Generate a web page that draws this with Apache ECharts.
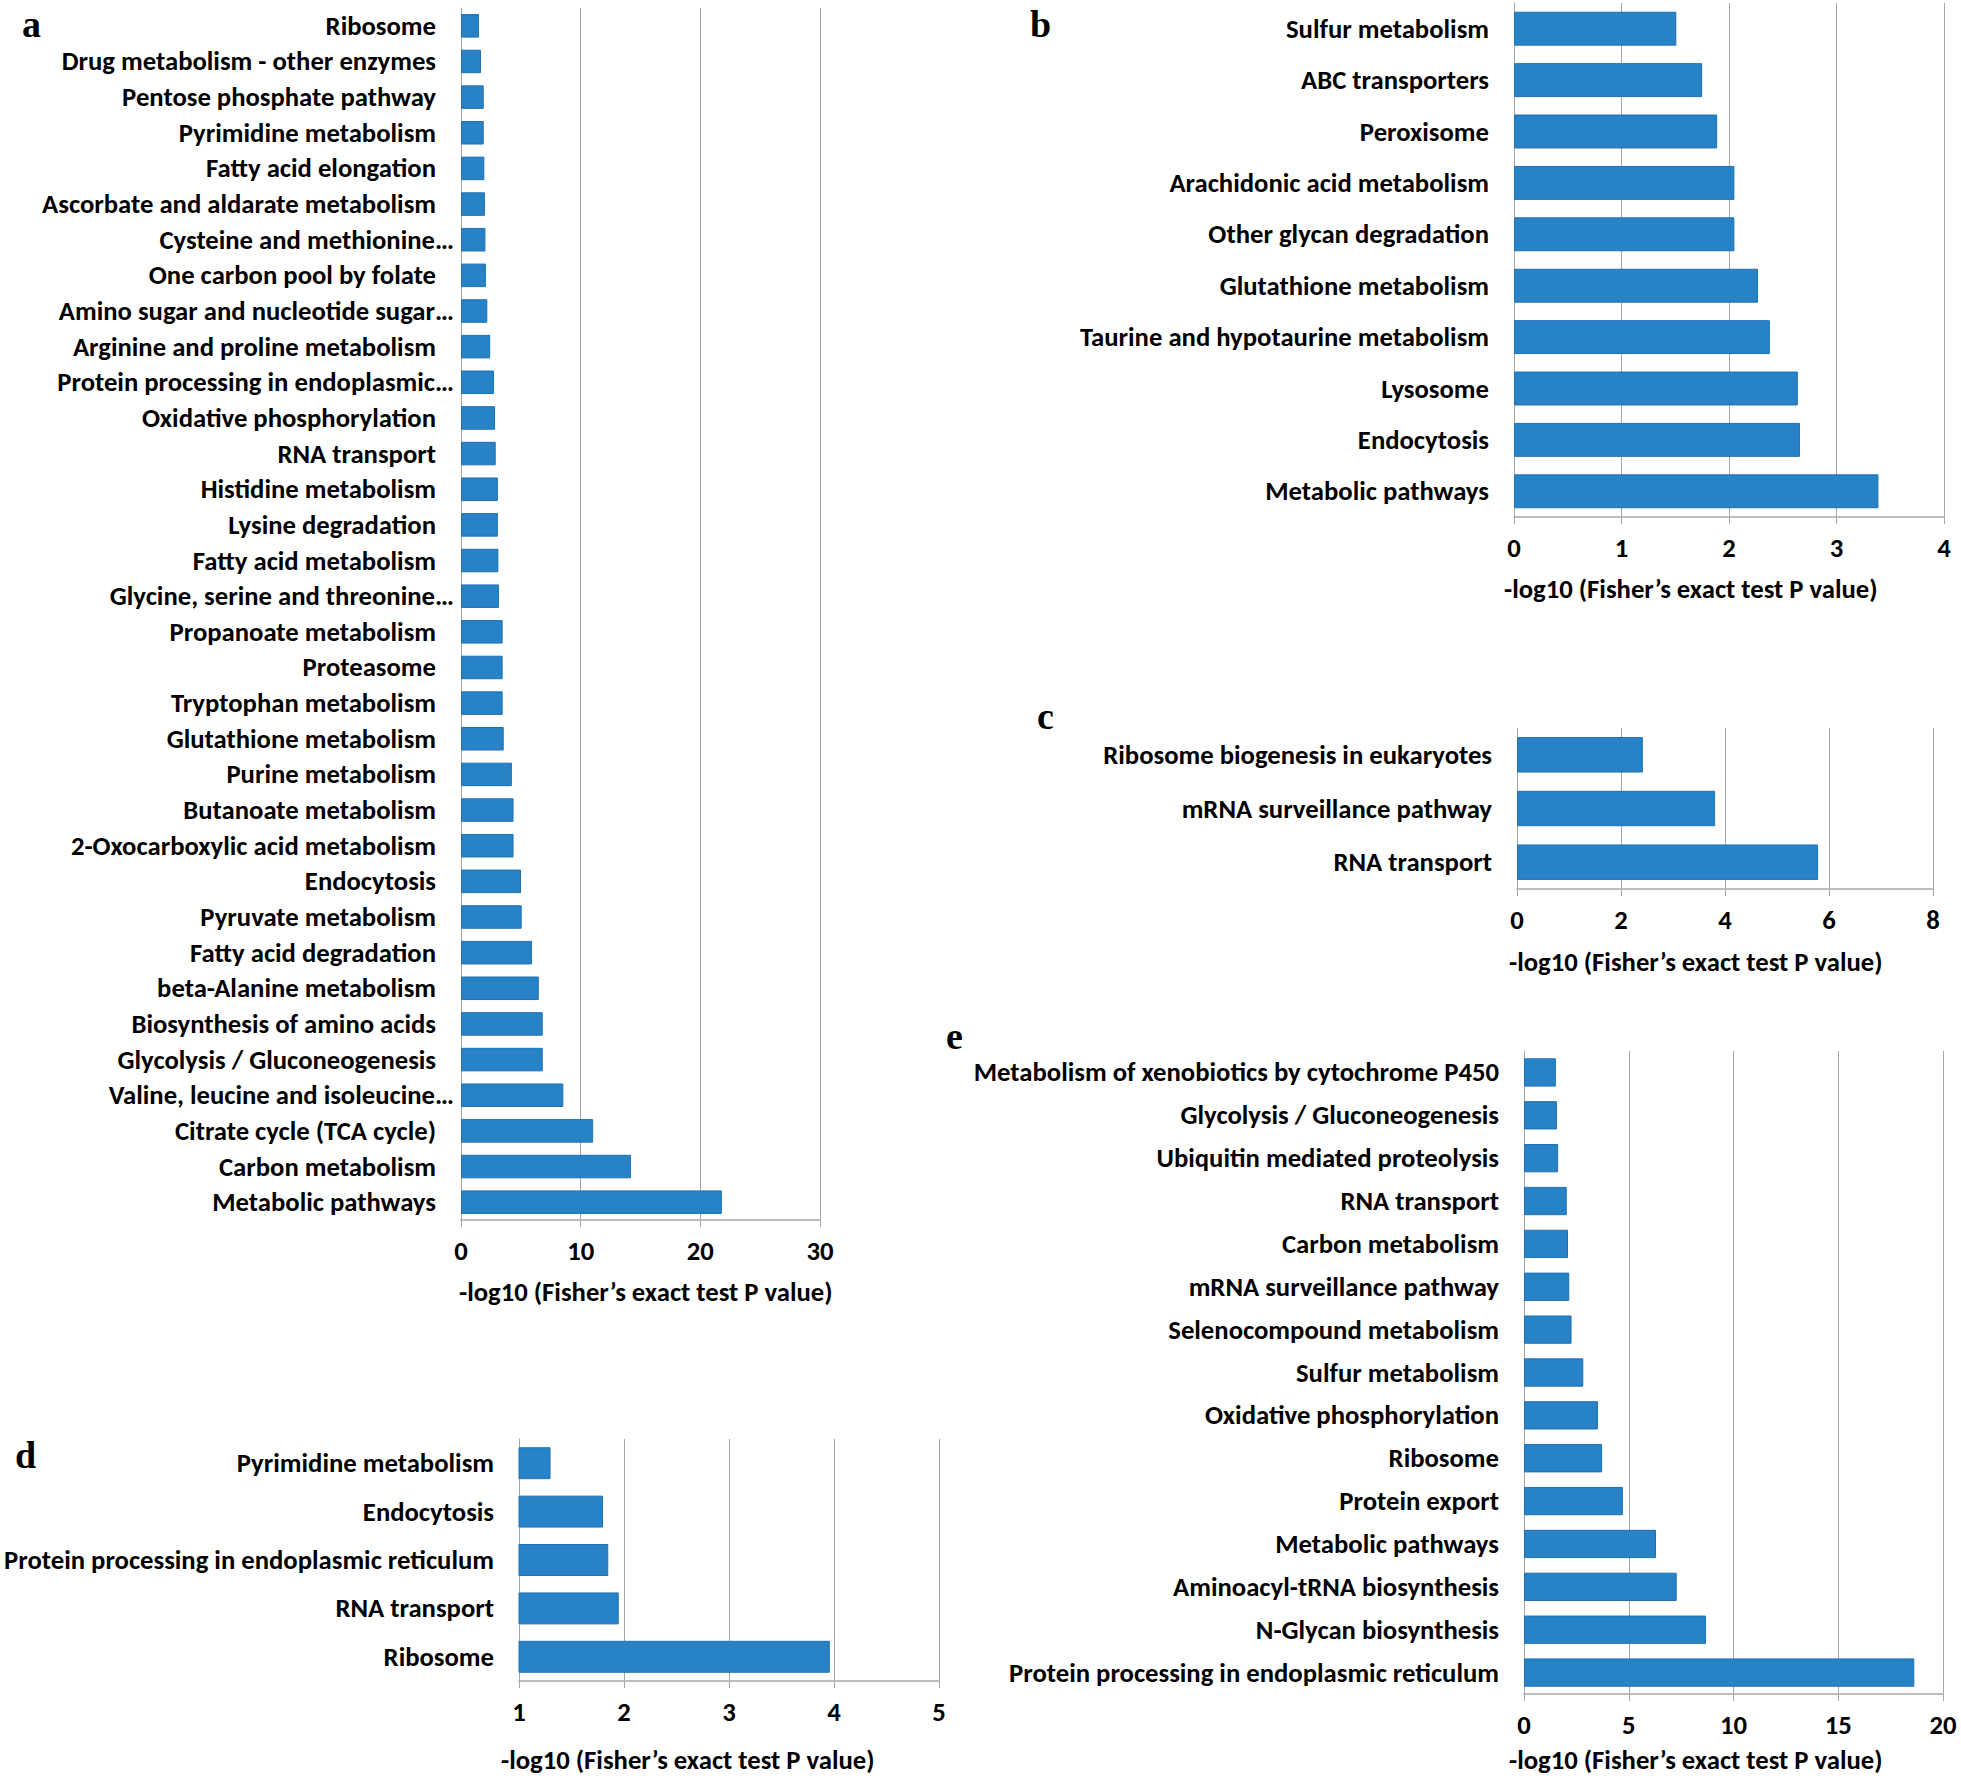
<!DOCTYPE html>
<html><head><meta charset="utf-8">
<script src="https://cdn.jsdelivr.net/npm/echarts@6/dist/echarts.min.js"></script>
<style>html,body{margin:0;padding:0;background:#fff}#chart{width:1961px;height:1778px}</style>
</head>
<body>
<div id="chart"></div>
<script>
// ---------- DATA ----------
const aCats = ['Ribosome','Drug metabolism - other enzymes','Pentose phosphate pathway','Pyrimidine metabolism','Fatty acid elongation','Ascorbate and aldarate metabolism','Cysteine and methionine…','One carbon pool by folate','Amino sugar and nucleotide sugar…','Arginine and proline metabolism','Protein processing in endoplasmic…','Oxidative phosphorylation','RNA transport','Histidine metabolism','Lysine degradation','Fatty acid metabolism','Glycine, serine and threonine…','Propanoate metabolism','Proteasome','Tryptophan metabolism','Glutathione metabolism','Purine metabolism','Butanoate metabolism','2-Oxocarboxylic acid metabolism','Endocytosis','Pyruvate metabolism','Fatty acid degradation','beta-Alanine metabolism','Biosynthesis of amino acids','Glycolysis / Gluconeogenesis','Valine, leucine and isoleucine…','Citrate cycle (TCA cycle)','Carbon metabolism','Metabolic pathways'];
const aVals = [1.5,1.67,1.9,1.9,1.95,2.0,2.04,2.08,2.2,2.44,2.76,2.85,2.9,3.08,3.08,3.12,3.17,3.48,3.48,3.48,3.57,4.25,4.39,4.39,5.02,5.07,5.93,6.5,6.83,6.83,8.55,11.04,14.2,21.8];

const bCats = ['Sulfur metabolism','ABC transporters','Peroxisome','Arachidonic acid metabolism','Other glycan degradation','Glutathione metabolism','Taurine and hypotaurine metabolism','Lysosome','Endocytosis','Metabolic pathways'];
const bVals = [1.51,1.75,1.89,2.05,2.05,2.27,2.38,2.64,2.66,3.39];

const cCats = ['Ribosome biogenesis in eukaryotes','mRNA surveillance pathway','RNA transport'];
const cVals = [2.42,3.81,5.79];

const dCats = ['Pyrimidine metabolism','Endocytosis','Protein processing in endoplasmic reticulum','RNA transport','Ribosome'];
const dVals = [1.3,1.8,1.85,1.95,3.96];

const eCats = ['Metabolism of xenobiotics by cytochrome P450','Glycolysis / Gluconeogenesis','Ubiquitin mediated proteolysis','RNA transport','Carbon metabolism','mRNA surveillance pathway','Selenocompound metabolism','Sulfur metabolism','Oxidative phosphorylation','Ribosome','Protein export','Metabolic pathways','Aminoacyl-tRNA biosynthesis','N-Glycan biosynthesis','Protein processing in endoplasmic reticulum'];
const eVals = [1.52,1.57,1.63,2.04,2.1,2.16,2.27,2.83,3.53,3.73,4.72,6.3,7.29,8.69,18.63];

const axisTitle = '-log10 (Fisher’s exact test P value)';
const panelLetters = ['a','b','c','d','e'];

// ---------- STYLE / LAYOUT ----------
const FONT = 'Carlito, Lato, sans-serif';
const FS = 26.7;
const BAR = '#2882c6';
const panels = [
  {cats:aCats, vals:aVals, min:0, max:30, step:10, grid:{left:461, top:8,    width:359, height:1212}, title:[459,1294], letter:[22,24]},
  {cats:bCats, vals:bVals, min:0, max:4,  step:1,  grid:{left:1514,top:3,    width:430, height:514},  title:[1504,591], letter:[1030,24]},
  {cats:cCats, vals:cVals, min:0, max:8,  step:2,  grid:{left:1517,top:728,  width:416, height:161},  title:[1509,964], letter:[1037,716]},
  {cats:dCats, vals:dVals, min:1, max:5,  step:1,  grid:{left:519, top:1439, width:420, height:242},  title:[501,1762], letter:[15,1455]},
  {cats:eCats, vals:eVals, min:0, max:20, step:5,  grid:{left:1524,top:1051, width:419, height:643},  title:[1509,1762], letter:[946,1036]}
];

const grids = [], xAxes = [], yAxes = [], series = [], graphics = [];
panels.forEach((p, i) => {
  grids.push(Object.assign({containLabel:false}, p.grid));
  xAxes.push({
    type:'value', gridIndex:i, min:p.min, max:p.max, interval:p.step,
    axisLine:{show:true, onZero:false, lineStyle:{color:'#bdbdbd', width:2}},
    axisTick:{show:true, length:7, lineStyle:{color:'#a6a6a6', width:1}},
    splitLine:{show:true, lineStyle:{color:'#a6a6a6', width:1}},
    axisLabel:{show:true, margin:17, color:'#000', fontFamily:FONT, fontWeight:'bold', fontSize:FS, showMinLabel:true, showMaxLabel:true}
  });
  yAxes.push({
    type:'category', gridIndex:i, data:p.cats, inverse:true,
    axisLine:{show:true, lineStyle:{color:'#a6a6a6', width:1}},
    axisTick:{show:false},
    axisLabel:{
      interval:0, margin:7, color:'#000',
      formatter: v => v.endsWith('…') ? '{t|' + v + '}' : '{t|' + v + '}{s| }',
      rich:{
        t:{fontFamily:FONT, fontWeight:'bold', fontSize:FS, color:'#000'},
        s:{width:18, fontSize:FS}
      }
    }
  });
  series.push({
    type:'bar', xAxisIndex:i, yAxisIndex:i, data:p.vals, clip:true,
    barCategoryGap:'34%',
    itemStyle:{color:BAR, borderColor:'#1f70b3', borderWidth:1},
    silent:true
  });
  graphics.push({
    type:'text', left:p.title[0], top:p.title[1] - FS/2 - 2,
    style:{text:axisTitle, fill:'#000', font:'bold ' + FS + 'px ' + FONT}
  });
  graphics.push({
    type:'text', left:p.letter[0], top:p.letter[1] - 19,
    style:{text:panelLetters[i], fill:'#000', font:'bold 38px "Liberation Serif", "Times New Roman", serif'}
  });
});

const chart = echarts.init(document.getElementById('chart'), null, {renderer:'svg', width:1961, height:1778});
chart.setOption({
  animation:false,
  backgroundColor:'#fff',
  grid:grids, xAxis:xAxes, yAxis:yAxes, series:series, graphic:graphics
});
</script>
</body></html>
